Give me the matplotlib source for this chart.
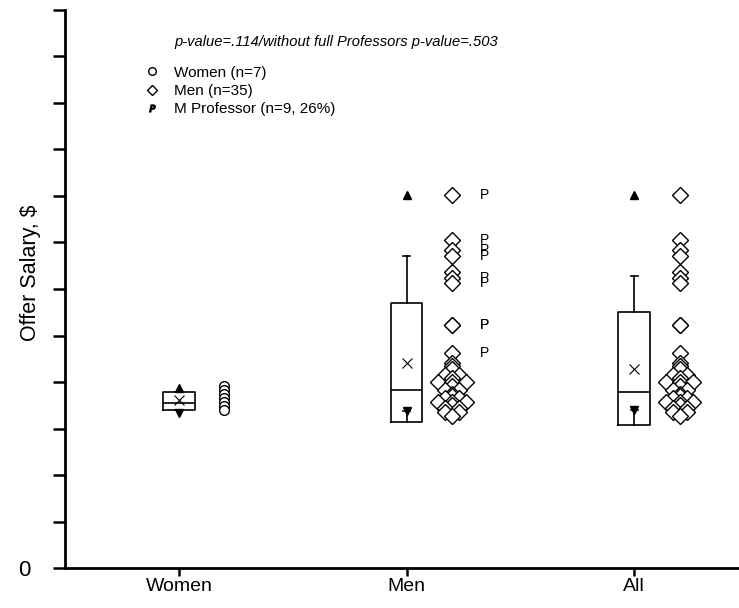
import matplotlib.pyplot as plt
import numpy as np
from matplotlib.lines import Line2D

plt.rcParams["font.family"] = ["Liberation Sans", "DejaVu Sans"]

CATEGORIES = ["Women", "Men", "All"]

# individual offers, $
women_salary = [39100, 38300, 37400, 36600, 35700, 34800, 34000]
men_salary = [80200, 70500, 68400, 67100, 63700, 62400, 61300, 52300, 52200, 46200,
              44100, 43400, 42800, 41500, 41500, 40900, 40000, 40000, 40000, 39100,
              38300, 38300, 37400, 37000, 36600, 36600, 35700, 35700, 35700, 35100,
              34400, 34400, 33500, 33500, 32700]
men_professor = [True, True, True, True, False, True, True, True, True, True] + [False] * 25

# box statistics per category (Women, Men, All)
box_q1 = [33980, 31400, 30750]
box_median = [35480, 38280, 37850]
box_q3 = [37850, 56990, 55050]
box_mean = [36130, 44090, 42800]
box_whisk_lo = [33980, 33760, 33980]
box_whisk_hi = [37850, 67100, 62800]
box_p95 = [38800, 80200, 80200]
box_p5 = [33300, 33760, 33980]

OUT_PNG = "out.png"


def dup_offsets(values, step):
    # spread identical values sideways, like the original software does
    values = np.asarray(values)
    off = np.zeros(len(values))
    for v in np.unique(values):
        idx = np.where(values == v)[0]
        off[idx] = (np.arange(len(idx)) - (len(idx) - 1) / 2) * step
    return off


def main():
    fig = plt.figure(figsize=(7.39, 6.08), dpi=100)
    ax = fig.add_axes([65 / 739, 40 / 608, 674 / 739, 558 / 608])

    pos = np.arange(1, len(CATEGORIES) + 1)
    stats = []
    for i in range(len(CATEGORIES)):
        stats.append(dict(med=box_median[i], q1=box_q1[i], q3=box_q3[i],
                          whislo=box_whisk_lo[i], whishi=box_whisk_hi[i],
                          mean=box_mean[i], fliers=[]))
    lw = 1.2
    ax.bxp(stats, positions=pos, widths=0.14, capwidths=0.03, showmeans=True,
           showfliers=False,
           boxprops=dict(color="black", linewidth=lw),
           medianprops=dict(color="black", linewidth=lw),
           whiskerprops=dict(color="black", linewidth=lw),
           capprops=dict(color="black", linewidth=lw),
           meanprops=dict(marker="x", markeredgecolor="black", markersize=6.5,
                          markeredgewidth=0.8))
    ax.plot(pos, box_p95, ls="none", marker="^", color="black", ms=6)
    ax.plot(pos, box_p5, ls="none", marker="v", color="black", ms=6)

    # raw points beside each box
    dx = 0.2
    step = 0.06
    w_off = dup_offsets(women_salary, step)
    m_off = dup_offsets(men_salary, step)
    for p in (pos[0], pos[2]):
        ax.plot(p + dx + w_off, women_salary, ls="none", marker="o", ms=7,
                mfc="white", mec="black", mew=1.0)
    for p in (pos[1], pos[2]):
        ax.plot(p + dx + m_off, men_salary, ls="none", marker="D", ms=8.5,
                mfc="white", mec="black", mew=1.0)
    for v, prof in zip(men_salary, men_professor):
        if prof:
            ax.text(pos[1] + 0.32, v, "P", fontsize=10, ha="left", va="center")

    ax.set_xlim(0.5, 3.46)
    ax.set_ylim(0, 120000)
    for s in ("top", "right"):
        ax.spines[s].set_visible(False)
    for s in ("left", "bottom"):
        ax.spines[s].set_linewidth(2)

    yt = np.arange(0, 120001, 10000)
    ax.set_yticks(yt)
    ax.set_yticklabels(["0"] + [""] * (len(yt) - 1), fontsize=16)
    ax.tick_params(axis="y", length=9, width=1.8, pad=16)
    ax.set_xticks(pos)
    ax.set_xticklabels(CATEGORIES, fontsize=14)
    ax.tick_params(axis="x", length=6, width=1.8, pad=1)
    ax.set_ylabel("Offer Salary, $", fontsize=15.5)
    ax.yaxis.set_label_coords(-0.035, 0.53)

    ax.text(0.163, 0.943, "p-value=.114/without full Professors p-value=.503",
            transform=ax.transAxes, fontsize=10.6, style="italic", va="center")
    handles = [
        Line2D([], [], ls="none", marker="o", ms=5.5, mfc="white", mec="black"),
        Line2D([], [], ls="none", marker="D", ms=5.5, mfc="white", mec="black"),
        Line2D([], [], ls="none", marker="$P$", ms=5, color="black"),
    ]
    ax.legend(handles, ["Women (n=7)", "Men (n=35)", "M Professor (n=9, 26%)"],
              loc="upper left", bbox_to_anchor=(0.118, 0.9), frameon=False,
              fontsize=11, handlelength=1.0, handletextpad=0.9,
              labelspacing=0.28, borderpad=0, borderaxespad=0)

    plt.savefig(OUT_PNG, dpi=100)


if __name__ == "__main__":
    main()
